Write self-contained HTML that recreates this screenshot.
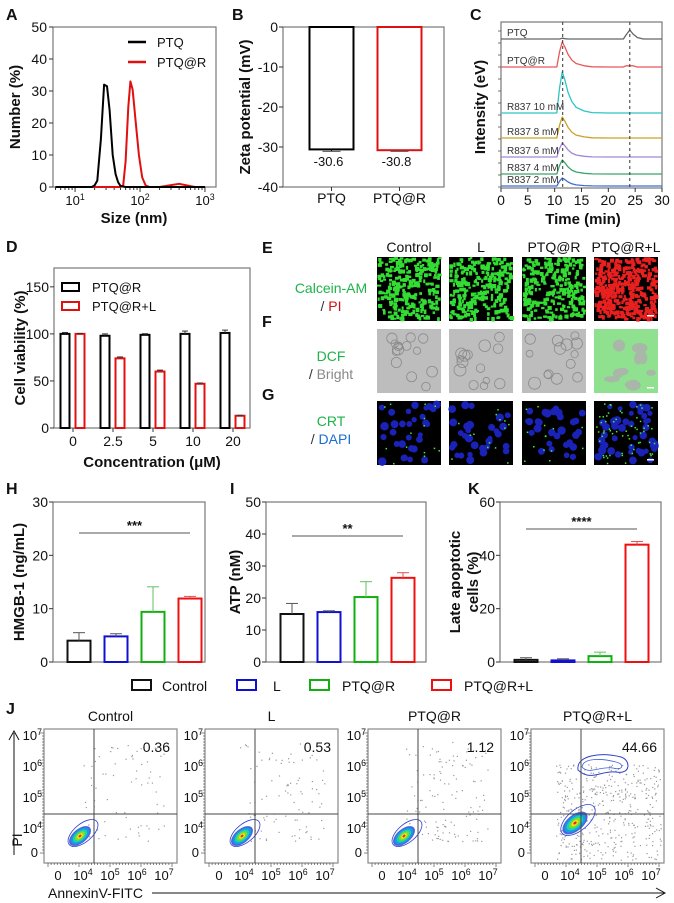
<!DOCTYPE html>
<html><head><meta charset="utf-8"><style>
html,body{margin:0;padding:0;background:#fff}
svg{display:block;font-family:"Liberation Sans",Arial,sans-serif}
</style></head><body>
<svg id="fig" width="674" height="903" viewBox="0 0 674 903" xmlns="http://www.w3.org/2000/svg"></svg>
<script>
// ===== Data =====
// Panel A (DLS)
const ptqSizes=[5,18,20,22,25,28,31,34,38,42,46,50,60,100,1000];
const ptqVals=[0,0,0.5,2,15,32,31.5,24,10,4,1.5,0.3,0,0,0];
const prSizes=[5,50,55,60,66,71,77,86,96,108,122,140,200,300,400,500,700,1000];
const prVals=[0,0,0.5,8,25,33,30.5,20,10,3,0.5,0,0,0.6,1,0.6,0,0];
// Panel B
const zetaCats=["PTQ","PTQ@R"];
const zetaVals=[-30.6,-30.8];
const zetaErr=[0.5,0.3];
const zetaLabels=["-30.6","-30.8"];
// Panel C
const traceNames=["PTQ","PTQ@R","R837 10 mM","R837 8 mM","R837 6 mM","R837 4 mM","R837 2 mM"];
const traceOffsets=[148,120,74,49,30,13,1];
const tracePeaks=[0,25,41,21,14,14,8];
const traceColors=["#666","#e8585a","#2fc4c4","#c9a227","#a486d6","#3aa56c","#3f6fd0"];
const shapeTimes=[0,10.4,10.9,11.4,11.9,12.5,13.2,14,15.5,17,20,22.8,23.3,24,24.6,25.4,26.5,30];
const shapeVals=[0,0,0.6,1,0.8,0.5,0.28,0.14,0.05,0.01,0,0,0,0,0,0,0,0];
const ptqTraceVals=[0,0,0,0.8,0.3,0,0,0,0,0,0,0,4,9,5,1.5,0,0];
// Panel D
const concCats=["0","2.5","5","10","20"];
const viabA=[100,98,99,100,101];
const viabAErr=[1.5,2,1.2,3,3];
const viabB=[100,74,60,47,13];
const viabBErr=[0.5,1.5,1.5,0.8,0.5];
// Panels H, I, K
const groups=["Control","L","PTQ@R","PTQ@R+L"];
const groupColors=["#111","#1010d0","#10b010","#ee1010"];
const hmgbVals=[4,4.8,9.4,11.9];
const hmgbErr=[1.5,0.5,4.7,0.4];
const atpVals=[15,15.6,20.3,26.3];
const atpErr=[3.3,0.4,4.8,1.6];
const lateVals=[0.8,0.6,2.2,44];
const lateErr=[0.8,0.6,1.5,1.2];
// Panel J
const flowTitles=["Control","L","PTQ@R","PTQ@R+L"];
const flowPct=["0.36","0.53","1.12","44.66"];

// ===== Helpers =====
const NS="http://www.w3.org/2000/svg";
const svg=document.getElementById('fig');
function mk(tag,attrs,name,parent){
  const el=document.createElementNS(NS,tag);
  for(const k in attrs) el.setAttribute(k,attrs[k]);
  
  
  (parent||svg).appendChild(el);
  return el;
}
function line(x1,y1,x2,y2,st,w,name,p,dash){
  const a={x1:x1,y1:y1,x2:x2,y2:y2,stroke:st,'stroke-width':w};
  if(dash)a['stroke-dasharray']=dash;
  return mk('line',a,name,p);
}
function text(x,y,s,size,opt,name,p){
  opt=opt||{};
  const a={x:x,y:y,'font-size':size,fill:opt.fill||'#111','text-anchor':opt.anchor||'middle'};
  if(opt.bold)a['font-weight']='bold';
  if(opt.rot!==undefined)a.transform='rotate('+opt.rot+' '+x+' '+y+')';
  const t=mk('text',a,name,p);
  t.textContent=s;
  return t;
}
function sup(x,y,base,exp,size,name,anchor){
  const t=mk('text',{x:x,y:y,'font-size':size,fill:'#111','text-anchor':anchor||'middle'},name);
  const a=document.createElementNS(NS,'tspan');a.textContent=base;t.appendChild(a);
  const b=document.createElementNS(NS,'tspan');b.textContent=exp;b.setAttribute('dy',-size*0.4);b.setAttribute('font-size',size*0.68);t.appendChild(b);
  return t;
}
function box(x,y,w,h,name){return mk('rect',{x:x,y:y,width:w,height:h,fill:'none',stroke:'#777','stroke-width':1.2},name);}
function poly(pts,st,w,name,p){return mk('polyline',{points:pts.map(q=>q[0].toFixed(1)+','+q[1].toFixed(1)).join(' '),fill:'none',stroke:st,'stroke-width':w,'stroke-linejoin':'round'},name,p);}
function letter(x,y,s){return text(x,y,s,16,{bold:true,anchor:'start'},'panel-letter-'+s.toLowerCase());}
let seed=12345;
function rnd(){seed=(seed*1664525+1013904223)%4294967296;return seed/4294967296;}

// ===== Panel A =====
letter(6,20,'A');
const ax0=53,ax1=216,ay0=27,ay1=187;
const xA=v=>ax0+(Math.log10(v)-0.66)/(3.17-0.66)*(ax1-ax0);
const yA=v=>ay1-v/50*(ay1-ay0);
box(ax0,ay0,ax1-ax0,ay1-ay0,'panel-a-plot-frame');
[0,10,20,30,40,50].forEach(v=>{line(ax0-4,yA(v),ax0,yA(v),'#333',1,'a-y-tick');text(ax0-6,yA(v)+5,String(v),14,{anchor:'end'},'a-y-tick-label');});
for(let d=0;d<=3;d++)for(let m=1;m<10;m++){const v=m*Math.pow(10,d);const x=xA(v);if(x<ax0||x>ax1)continue;line(x,ay1,x,ay1+(m==1?5:3),'#333',1,'a-x-tick');}
[[10,'1'],[100,'2'],[1000,'3']].forEach(t=>sup(xA(t[0]),205,'10',t[1],13,'a-x-tick-label'));
poly(prSizes.map((s,i)=>[xA(s),yA(prVals[i])]),'#e01010',2,'a-series-ptq-r');
poly(ptqSizes.map((s,i)=>[xA(s),yA(ptqVals[i])]),'#000',2,'a-series-ptq');
text(20,107,'Number (%)',15,{bold:true,rot:-90},'a-y-axis-title');
text(134,223,'Size (nm)',15,{bold:true},'a-x-axis-title');
line(128,42,146,42,'#000',2.5,'a-legend-ptq-swatch');text(157,47,'PTQ',13,{anchor:'start'},'a-legend-ptq-label');
line(128,62,146,62,'#e01010',2.5,'a-legend-ptq-r-swatch');text(157,67,'PTQ@R',13,{anchor:'start'},'a-legend-ptq-r-label');

// ===== Panel B =====
letter(232,20,'B');
const bx0=283,bx1=444,by0=27,by1=187;
const yB=v=>by0+(-v)/40*(by1-by0);
box(bx0,by0,bx1-bx0,by1-by0,'panel-b-plot-frame');
[0,-10,-20,-30,-40].forEach(v=>{line(bx0-4,yB(v),bx0,yB(v),'#333',1,'b-y-tick');text(bx0-5,yB(v)+5,String(v),14,{anchor:'end'},'b-y-tick-label');});
const bCenters=[331.5,399.5];
zetaVals.forEach((v,i)=>{
  const c=bCenters[i],col=i?'#e01010':'#000';
  mk('rect',{x:c-22,y:yB(0),width:44,height:yB(v)-yB(0),fill:'#fff',stroke:col,'stroke-width':2},'b-bar-'+zetaCats[i].toLowerCase());
  line(c,yB(v),c,yB(v-zetaErr[i]),col,1,'b-error-bar');line(c-9,yB(v-zetaErr[i]),c+9,yB(v-zetaErr[i]),'#555',1,'b-error-cap');
  text(c-3,166,zetaLabels[i],13,{},'b-value-label');
  line(c,by1,c,by1+4,'#333',1,'b-x-tick');
  text(c,203,zetaCats[i],14,{},'b-x-tick-label');
});
text(250,107,'Zeta potential (mV)',15,{bold:true,rot:-90},'b-y-axis-title');

// ===== Panel C =====
letter(470,20,'C');
const cx0=501,cx1=662,cy0=22,cy1=188;
const xC=t=>cx0+t/30*(cx1-cx0);
const yC=v=>cy1-1-v;
box(cx0,cy0,cx1-cx0,cy1-cy0,'panel-c-plot-frame');
[0,5,10,15,20,25,30].forEach(t=>{line(xC(t),cy1,xC(t),cy1+4,'#333',1,'c-x-tick');text(xC(t),205,String(t),14,{},'c-x-tick-label');});
for(let v=0;v<=160;v+=12){line(cx0-3,yC(v),cx0,yC(v),'#555',0.8,'c-y-tick');}
traceNames.forEach((n,i)=>{
  const vals=shapeTimes.map((t,j)=> i==0? ptqTraceVals[j] : shapeVals[j]*tracePeaks[i] + ((i==2||i==3||i==5)&&t>4.5&&t<6?1.2:0) + (i==1&&t>23&&t<24.7?1.2:0));
  poly(shapeTimes.map((t,j)=>[xC(t),yC(traceOffsets[i]+vals[j])]),traceColors[i],1.3,'c-trace-'+n.toLowerCase().replace(/[^a-z0-9]+/g,'-'));
  text(507,yC(traceOffsets[i])-3,n,10,{anchor:'start',fill:'#333'},'c-trace-label');
});
line(xC(11.5),cy0,xC(11.5),cy1,'#333',1,'c-dashed-line-1',null,'3,3');
line(xC(24),cy0,xC(24),cy1,'#333',1,'c-dashed-line-2',null,'3,3');
text(485,107,'Intensity (eV)',15,{bold:true,rot:-90},'c-y-axis-title');
text(583,224,'Time (min)',15,{bold:true},'c-x-axis-title');

// ===== Panel D =====
letter(6,252,'D');
const dx0=54,dx1=250,dy0=268,dy1=428;
const yD=v=>dy1-v/170*(dy1-dy0);
const xD=i=>73+i*40;
box(dx0,dy0,dx1-dx0,dy1-dy0,'panel-d-plot-frame');
[0,50,100,150].forEach(v=>{line(dx0-4,yD(v),dx0,yD(v),'#333',1,'d-y-tick');text(dx0-5,yD(v)+5,String(v),14,{anchor:'end'},'d-y-tick-label');});
concCats.forEach((c,i)=>{
  const g=xD(i);
  [[viabA,viabAErr,-8,'#000'],[viabB,viabBErr,7,'#e01010']].forEach((s,k)=>{
    const cx=g+s[2],v=s[0][i],e=s[1][i];
    mk('rect',{x:cx-4.5,y:yD(v),width:9,height:yD(0)-yD(v),fill:'#fff',stroke:s[3],'stroke-width':2},k?'d-bar-ptq-r-l':'d-bar-ptq-r');
    line(cx,yD(v),cx,yD(v+e),'#333',1,'d-error-bar');line(cx-3,yD(v+e),cx+3,yD(v+e),'#333',1,'d-error-cap');
  });
  line(g,dy1,g,dy1+4,'#333',1,'d-x-tick');
  text(g,446,c,14,{},'d-x-tick-label');
});
mk('rect',{x:62,y:283,width:17,height:8,fill:'#fff',stroke:'#000','stroke-width':2},'d-legend-ptq-r-swatch');
text(92,292,'PTQ@R',13,{anchor:'start'},'d-legend-ptq-r-label');
mk('rect',{x:62,y:302,width:17,height:8,fill:'#fff',stroke:'#e01010','stroke-width':2},'d-legend-ptq-r-l-swatch');
text(92,311,'PTQ@R+L',13,{anchor:'start'},'d-legend-ptq-r-l-label');
text(25,348,'Cell viability (%)',15,{bold:true,rot:-90},'d-y-axis-title');
text(152,467,'Concentration (μM)',15,{bold:true},'d-x-axis-title');

// ===== Panels E, F, G (micrographs) =====
letter(262,253,'E');letter(262,327,'F');letter(262,400,'G');
const colX=[377,449,522,594],rowY=[257,329,401],W=64,H=64;
flowTitles.forEach((t,i)=>text(colX[i]+32,252,t,14,{},'efg-column-header'));
function rowLabel(y1,a,ca,b,cb,name){
  const t=mk('text',{x:331,y:y1,'font-size':14,fill:ca,'text-anchor':'middle'},name+'-line1');t.textContent=a;
  const t2=mk('text',{x:331,y:y1+18,'font-size':14,fill:'#333','text-anchor':'middle'},name+'-line2');
  const s1=document.createElementNS(NS,'tspan');s1.textContent='/ ';t2.appendChild(s1);
  const s2=document.createElementNS(NS,'tspan');s2.textContent=b;s2.setAttribute('fill',cb);t2.appendChild(s2);
}
rowLabel(293,'Calcein-AM','#1db34a','PI','#d01010','e-row-label');
rowLabel(361,'DCF','#1db34a','Bright','#888','f-row-label');
rowLabel(426,'CRT','#1db34a','DAPI','#1a6fd0','g-row-label');
colX.forEach((x,i)=>{
  // E row
  let g=mk('g',{},'e-image-'+i);
  mk('rect',{x:x,y:rowY[0],width:W,height:H,fill:'#000'},'e-image-bg',g);
  const n=i==3?420:260, col=i==3?'#e82020':'#33dd33';
  for(let k=0;k<n;k++){const px=x+rnd()*(W-3),py=rowY[0]+rnd()*(H-3);mk('rect',{x:px.toFixed(1),y:py.toFixed(1),width:2+rnd()*2.5,height:2+rnd()*2.5,fill:col},'e-cell',g);}
  // F row
  g=mk('g',{},'f-image-'+i);
  mk('rect',{x:x,y:rowY[1],width:W,height:H,fill:i==3?'#8fe08f':'#bdbdbd'},'f-image-bg',g);
  for(let k=0;k<(i==3?10:14);k++){const px=x+6+rnd()*(W-12),py=rowY[1]+6+rnd()*(H-12);
    if(i==3) mk('ellipse',{cx:px,cy:py,rx:4+rnd()*5,ry:3+rnd()*4,fill:'#a9b7a9'},'f-gap',g);
    else mk('circle',{cx:px,cy:py,r:3+rnd()*3,fill:'none',stroke:'#8a8a8a','stroke-width':0.8},'f-cell-outline',g);}
  // G row
  g=mk('g',{},'g-image-'+i);
  mk('rect',{x:x,y:rowY[2],width:W,height:H,fill:'#000'},'g-image-bg',g);
  for(let k=0;k<(i==3?45:30);k++){const px=x+3+rnd()*(W-6),py=rowY[2]+3+rnd()*(H-6);mk('circle',{cx:px,cy:py,r:2.5+rnd()*1.8,fill:'#1a22b8'},'g-nucleus',g);}
  for(let k=0;k<(i==3?60:14);k++){const px=x+2+rnd()*(W-4),py=rowY[2]+2+rnd()*(H-4);mk('rect',{x:px,y:py,width:1.5,height:1.5,fill:'#44ee44'},'g-crt-speck',g);}
  if(i==3) rowY.forEach(y=>mk('rect',{x:x+W-11,y:y+H-6,width:7,height:1.5,fill:'#fff'},'scale-bar',g));
});

// ===== Bar panels H, I, K =====
function barPanel(key,x0,x1,maxV,ticks,vals,errs,sigY,stars,yTitle){
  const y0=502,y1=662;
  const yS=v=>y1-v/maxV*(y1-y0);
  const xS=i=>x0+26+i*37;
  box(x0,y0,x1-x0,y1-y0,key+'-plot-frame');
  ticks.forEach(v=>{line(x0-4,yS(v),x0,yS(v),'#333',1,key+'-y-tick');text(x0-5,yS(v)+5,String(v),14,{anchor:'end'},key+'-y-tick-label');});
  vals.forEach((v,i)=>{
    const c=xS(i);
    mk('rect',{x:c-11.5,y:yS(v),width:23,height:yS(0)-yS(v),fill:'#fff',stroke:groupColors[i],'stroke-width':2},key+'-bar-'+groups[i].toLowerCase().replace(/[^a-z0-9]+/g,'-'));
    const col=i==2?'#60c060':(i==3?'#e05050':'#555');
    line(c,yS(v),c,yS(v+errs[i]),col,1,key+'-error-bar');line(c-6,yS(v+errs[i]),c+6,yS(v+errs[i]),col,1,key+'-error-cap');
  });
  line(xS(0),sigY,xS(3),sigY,'#555',1,key+'-significance-line');
  text((xS(0)+xS(3))/2,sigY-3,stars,13,{bold:true},key+'-significance-stars');
}
letter(6,494,'H');letter(230,494,'I');letter(468,494,'K');
barPanel('h',53,205,30,[0,10,20,30],hmgbVals,hmgbErr,533,'***');
barPanel('i',266,426,50,[0,10,20,30,40,50],atpVals,atpErr,536,'**');
barPanel('k',500,661,60,[0,20,40,60],lateVals,lateErr,529,'****');
text(24,582,'HMGB-1 (ng/mL)',15,{bold:true,rot:-90},'h-y-axis-title');
text(240,582,'ATP (nM)',15,{bold:true,rot:-90},'i-y-axis-title');
text(460,582,'Late apoptotic',15,{bold:true,rot:-90},'k-y-axis-title-line1');
text(478,582,'cells (%)',15,{bold:true,rot:-90},'k-y-axis-title-line2');
// shared legend
const legX=[132,237,310,432],legT=[162,273,342,464];
groups.forEach((gname,i)=>{
  mk('rect',{x:legX[i],y:680,width:19,height:10,fill:'#fff',stroke:groupColors[i],'stroke-width':2},'legend-swatch-'+i);
  text(legT[i],691,gname,14,{anchor:'start'},'legend-label-'+i);
});

// ===== Panel J (flow cytometry) =====
letter(6,714,'J');
const fL=[44,205,368,531],fW=133,fT=729,fB=863;
const popX=[36,37,36,44],popY=[836,836,836,823];
const dotN=[70,90,130,520];
fL.forEach((x0,p)=>{
  text(x0+fW/2,721,flowTitles[p],14,{},'j-panel-title');
  const g=mk('g',{},'j-panel-'+p);
  mk('rect',{x:x0,y:fT,width:fW,height:fB-fT,fill:'#fff',stroke:'#888','stroke-width':1.2},'j-plot-frame',g);
  for(let k=0;k<dotN[p];k++){
    let px,py;
    if(p==3){px=x0+25+rnd()*105;py=fT+35+rnd()*120;if(py>fB-3)continue;}
    else{px=x0+35+Math.pow(rnd(),0.8)*85;py=fB-22-Math.pow(rnd(),1.3)*100;}
    mk('rect',{x:px.toFixed(1),y:py.toFixed(1),width:1.2,height:1.2,fill:'#999'},'j-event-dot',g);
  }
  const cx=x0+popX[p],cy=popY[p],sc=p==3?1.15:1;
  [['#5060e0',13,7],['#10a0e0',11,5.8],['#20d0b0',8.5,4.5],['#80e020',6,3.2],['#f0e020',3.5,2],['#ee2020',1.6,1]].forEach(e=>
    mk('ellipse',{cx:cx,cy:cy,rx:e[1]*sc,ry:e[2]*sc,fill:e[0],transform:'rotate(-40 '+cx+' '+cy+')'},'j-population-density',g));
  mk('ellipse',{cx:cx+3,cy:cy-3,rx:18*sc,ry:9*sc,fill:'none',stroke:'#3040d0','stroke-width':0.8,transform:'rotate(-40 '+(cx+3)+' '+(cy-3)+')'},'j-contour',g);
  if(p==3){
    mk('path',{d:'M'+(x0+47)+',770 C'+(x0+45)+',755 '+(x0+70)+',752 '+(x0+90)+',757 C'+(x0+100)+',760 '+(x0+100)+',775 '+(x0+85)+',772 C'+(x0+70)+',770 '+(x0+60)+',782 '+(x0+47)+',770 Z',fill:'none',stroke:'#3040d0','stroke-width':1},'j-contour-late-apoptotic',g);
    mk('path',{d:'M'+(x0+51)+',767 C'+(x0+52)+',758 '+(x0+70)+',758 '+(x0+85)+',762 C'+(x0+94)+',764 '+(x0+92)+',771 '+(x0+82)+',768 C'+(x0+68)+',766 '+(x0+58)+',775 '+(x0+51)+',767 Z',fill:'none',stroke:'#4060e0','stroke-width':0.8},'j-contour-inner',g);
  }
  line(x0+50,fT,x0+50,fB,'#444',1,'j-quadrant-vertical',g);
  line(x0,814,x0+fW,814,'#444',1,'j-quadrant-horizontal',g);
  text(x0+fW-7,752,flowPct[p],14,{anchor:'end'},'j-quadrant-percent',g);
  for(let k=0;k<=40;k++){line(x0+4+k*3.1,fB,x0+4+k*3.1,fB+(k%10==0?4:2),'#555',0.7,'j-x-minor-tick',g);}
  for(let k=0;k<=40;k++){line(x0,fT+4+k*3,x0-(k%10==0?4:2),fT+4+k*3,'#555',0.7,'j-y-minor-tick',g);}
  [['10','7',736],['10','6',767],['10','5',798],['10','4',829]].forEach(t=>sup(x0-2,t[2]+4,t[0],t[1],13,'j-y-tick-label','end'));
  text(x0-6,857,'0',13,{anchor:'end'},'j-y-tick-label');
  text(x0+14,880,'0',13,{},'j-x-tick-label');
  [['4',39],['5',66],['6',93],['7',120]].forEach(t=>sup(x0+t[1],880,'10',t[0],13,'j-x-tick-label'));
});
text(22,840,'PI',14,{rot:-90},'j-y-axis-title');
line(14,855,14,733,'#111',1,'j-y-arrow');
mk('path',{d:'M9,740 L14,731 L19,740',fill:'none',stroke:'#111','stroke-width':1},'j-y-arrowhead');
text(48,898,'AnnexinV-FITC',14,{anchor:'start'},'j-x-axis-title');
line(152,893,664,893,'#111',1,'j-x-arrow');
mk('path',{d:'M656,888 L665,893 L656,898',fill:'none',stroke:'#111','stroke-width':1},'j-x-arrowhead');
</script>
</body></html>
